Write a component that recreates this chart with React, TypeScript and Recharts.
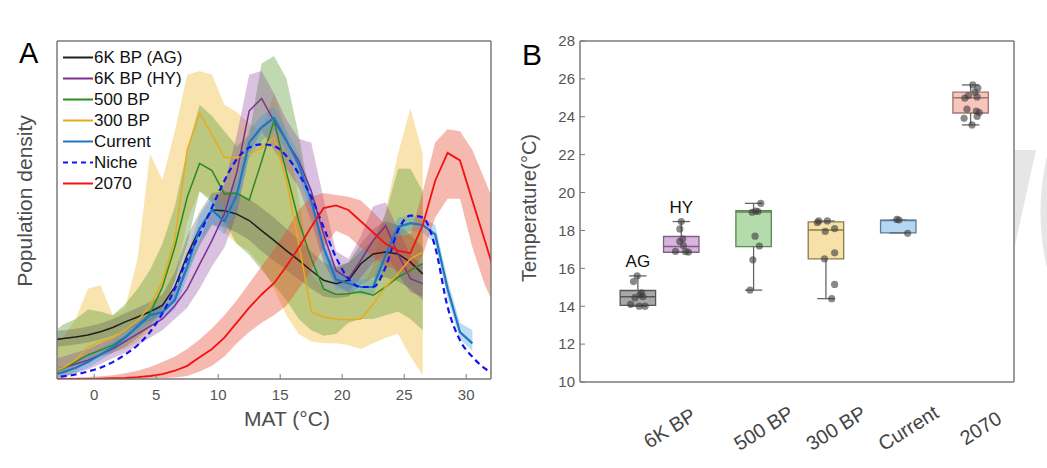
import {
  ComposedChart,
  Area,
  Line,
  Scatter,
  XAxis,
  YAxis,
  Legend,
  ReferenceArea,
  ReferenceLine,
  ReferenceDot,
} from "recharts"

const FONT = '"Liberation Sans", Arial, Helvetica, sans-serif'

// ---------- Panel A: population density along mean annual temperature ----------
const mat = [
  -3.5, -2.5, -1.5, -0.5, 0.5, 1.5, 2.5, 3.5, 4.5, 5.5, 6.5, 7.5, 8.5, 9.5, 10.5, 11.5, 12.5, 13.5,
  14.5, 15.5, 16.5, 17.5, 18.5, 19.5, 20.5, 21.5, 22.5, 23.5, 24.5, 25.5, 26.5, 27.5, 28.5, 29.5,
  30.5, 31.5, 32.5,
]
const matDomain = [-3, 32]
const matTicks = [0, 5, 10, 15, 20, 25, 30]
const densityDomain = [0, 9]
const densityTicks = [1, 2, 3, 4, 5, 6, 7, 8]

const seriesNames = ["6K BP (AG)", "6K BP (HY)", "500 BP", "300 BP", "Current", "Niche", "2070"]

// 6K BP (AG)
const agLine = [1.03, 1.08, 1.12, 1.17, 1.26, 1.37, 1.52, 1.65, 1.79, 1.96, 2.45, 3.3, 4.0, 4.5, 4.48, 4.39, 4.22, 3.95, 3.69, 3.42, 3.16, 2.89, 2.63, 2.54, 2.63, 3.07, 3.33, 3.38, 3.33, 3.11, 2.8]
const agLo = [0.85, 0.88, 0.92, 0.97, 1.05, 1.15, 1.3, 1.42, 1.55, 1.7, 2.1, 2.85, 3.55, 4.1, 4.05, 3.9, 3.7, 3.4, 3.15, 2.9, 2.65, 2.4, 2.2, 2.15, 2.2, 2.5, 2.7, 2.7, 2.6, 2.4, 2.1]
const agHi = [1.25, 1.3, 1.34, 1.4, 1.48, 1.6, 1.75, 1.9, 2.05, 2.25, 2.85, 3.8, 4.45, 4.95, 5.0, 4.95, 4.8, 4.55, 4.3, 4.0, 3.7, 3.4, 3.1, 2.95, 3.1, 3.6, 4.0, 4.2, 4.1, 3.85, 3.5]

// 6K BP (HY)
const hyLine = [0.2, 0.3, 0.4, 0.5, 0.65, 0.8, 1.0, 1.2, 1.4, 1.6, 1.95, 2.4, 3.05, 3.69, 4.4, 5.5, 7.14, 7.47, 6.87, 6.34, 5.81, 5.01, 3.86, 2.89, 2.67, 3.16, 3.69, 4.08, 3.33, 2.67, 2.54]
const hyLo = [0.0, 0.05, 0.15, 0.25, 0.4, 0.55, 0.7, 0.9, 1.1, 1.3, 1.6, 1.9, 2.4, 3.0, 3.5, 4.4, 6.0, 6.6, 6.1, 5.6, 5.1, 4.2, 3.1, 2.5, 2.3, 2.7, 3.1, 3.3, 2.8, 2.3, 2.2]
const hyHi = [0.5, 0.6, 0.7, 0.8, 0.95, 1.1, 1.3, 1.5, 1.75, 2.0, 2.4, 3.0, 3.7, 4.5, 5.2, 6.5, 8.1, 8.2, 7.6, 6.9, 6.4, 6.3, 4.8, 3.4, 3.2, 3.8, 4.6, 4.7, 4.0, 3.3, 3.0]

// 500 BP
const bp500Line = [0.2, 0.28, 0.46, 0.64, 0.77, 0.9, 1.12, 1.39, 1.74, 2.45, 3.51, 4.84, 5.74, 5.55, 4.93, 4.95, 4.76, 5.8, 6.88, 5.5, 4.2, 3.2, 2.4, 2.25, 2.27, 2.32, 2.23, 2.45, 2.71, 2.89, 3.07]
const bp500Lo = [0.1, 0.2, 0.35, 0.5, 0.6, 0.7, 0.85, 1.1, 1.4, 1.9, 2.6, 3.6, 5.0, 4.7, 4.2, 3.6, 3.3, 2.9, 2.5, 2.1, 1.6, 1.3, 1.15, 1.2, 1.5, 1.6, 1.6, 1.7, 1.8, 1.6, 1.3]
const bp500Hi = [1.2, 1.45, 1.6, 1.85, 1.8, 1.7, 2.0, 2.4, 2.9, 3.6, 4.6, 6.1, 7.3, 7.0, 6.6, 6.2, 6.5, 8.4, 8.6, 8.0, 6.5, 4.6, 3.4, 3.0, 3.1, 3.4, 3.7, 4.4, 5.6, 5.6, 5.0]

// 300 BP
const bp300Line = [0.2, 0.3, 0.5, 0.85, 1.0, 1.1, 1.3, 1.55, 1.95, 2.6, 3.7, 6.1, 7.08, 6.5, 5.9, 5.9, 6.0, 6.15, 6.43, 5.3, 3.6, 1.8, 1.65, 1.6, 1.58, 1.6, 2.0, 2.45, 2.8, 3.2, 3.38]
const bp300Lo = [0.0, 0.05, 0.2, 0.5, 0.6, 0.7, 0.8, 1.0, 1.3, 1.8, 2.6, 4.2, 5.0, 4.8, 3.9, 3.6, 3.4, 3.0, 2.4, 1.7, 1.2, 1.0, 0.95, 0.95, 0.9, 0.8, 0.95, 1.1, 1.2, 0.6, 0.1]
const bp300Hi = [0.9, 1.1, 1.6, 2.4, 2.5, 1.7, 1.9, 3.2, 6.0, 5.3, 6.6, 8.1, 8.2, 8.1, 7.3, 7.1, 6.8, 6.6, 7.6, 6.6, 4.8, 2.8, 2.4, 2.2, 2.3, 2.4, 3.0, 4.5, 6.0, 7.2, 6.0]

// Current
const curLine = [0.1, 0.18, 0.3, 0.45, 0.65, 0.85, 1.1, 1.4, 1.7, 1.78, 2.1, 3.0, 4.0, 4.5, 4.2, 4.9, 6.3, 6.7, 6.95, 6.35, 5.7, 4.75, 3.5, 2.65, 2.55, 2.45, 2.45, 3.3, 4.05, 4.15, 4.1, 3.85, 2.4, 1.25, 0.95]
const curLo = [0.0, 0.05, 0.15, 0.3, 0.5, 0.7, 0.95, 1.25, 1.5, 1.6, 1.85, 2.7, 3.6, 4.15, 3.85, 4.5, 5.9, 6.35, 6.65, 6.05, 5.4, 4.45, 3.2, 2.4, 2.35, 2.25, 2.25, 3.0, 3.8, 3.95, 3.9, 3.6, 2.15, 1.05, 0.75]
const curHi = [0.25, 0.33, 0.45, 0.62, 0.82, 1.02, 1.27, 1.57, 1.9, 2.0, 2.4, 3.3, 4.35, 4.85, 4.6, 5.3, 6.65, 7.0, 7.25, 6.65, 6.0, 5.05, 3.8, 2.9, 2.75, 2.65, 2.65, 3.6, 4.3, 4.35, 4.3, 4.1, 2.65, 1.5, 1.3]

// Niche
const nicheLine = [0.04, 0.07, 0.12, 0.2, 0.3, 0.45, 0.65, 0.9, 1.25, 1.75, 2.4, 3.2, 3.85, 4.57, 5.28, 5.85, 6.16, 6.25, 6.2, 5.94, 5.46, 4.85, 4.04, 3.24, 2.67, 2.45, 2.45, 2.98, 3.95, 4.35, 4.3, 3.51, 1.92, 1.03, 0.59, 0.28, 0.1]

// 2070
const f2070Line = [0, 0, 0, 0, 0.01, 0.02, 0.03, 0.05, 0.08, 0.13, 0.22, 0.35, 0.58, 0.8, 1.1, 1.5, 1.9, 2.25, 2.55, 3.0, 3.5, 4.05, 4.55, 4.62, 4.5, 4.2, 3.9, 3.6, 3.42, 3.35, 4.1, 5.28, 6.02, 5.82, 4.75, 3.69, 2.6]
const f2070Lo = [0, 0, 0, 0, 0, 0, 0, 0, 0.01, 0.02, 0.04, 0.08, 0.2, 0.35, 0.6, 0.95, 1.25, 1.5, 1.7, 1.95, 2.4, 2.9, 3.5, 3.95, 3.8, 3.5, 3.25, 3.0, 2.9, 2.8, 3.3, 4.3, 4.8, 4.8, 3.5, 2.5, 1.8]
const f2070Hi = [0.02, 0.03, 0.04, 0.05, 0.07, 0.1, 0.15, 0.22, 0.32, 0.45, 0.6, 0.8, 1.05, 1.35, 1.7, 2.1, 2.55, 3.0, 3.45, 3.95, 4.5, 4.85, 4.95, 4.9, 4.85, 4.75, 4.45, 4.1, 3.8, 3.85, 5.0, 6.3, 6.65, 6.6, 6.1, 5.3, 4.5]

// ---------- Panel B: temperature by period ----------
const tempGroups = ["AG", "HY", "500 BP", "300 BP", "Current", "2070"]
const tempPos = [1.4, 2, 3, 4, 5, 6]
const tempWhiskerLo = [14.0, 16.85, 14.85, 14.4, 17.87, 23.57]
const tempQ1 = [14.05, 16.85, 17.15, 16.5, 17.87, 24.2]
const tempMedian = [14.5, 17.15, 18.98, 18.02, 18.52, 25.0]
const tempQ3 = [14.83, 17.68, 19.05, 18.45, 18.55, 25.3]
const tempWhiskerHi = [15.6, 18.47, 19.43, 18.5, 18.55, 25.68]

const agTemps = [15.6, 15.3, 14.7, 14.6, 14.5, 14.45, 14.1, 14.0, 14.0]
const agJitter = [-0.01, -0.06, 0.05, 0.03, 0.07, -0.04, -0.1, 0.02, 0.1]
const hyTemps = [18.47, 18.08, 17.55, 17.42, 17.2, 16.9, 16.88, 16.86]
const hyJitter = [0, -0.02, 0.02, -0.02, 0.03, -0.08, 0.06, 0.1]
const bp500Temps = [19.43, 19.02, 19.0, 18.96, 17.7, 17.18, 16.45, 14.85]
const bp500Jitter = [0.1, 0.03, 0.06, -0.02, 0.02, 0.08, -0.01, -0.05]
const bp300Temps = [18.5, 18.5, 18.42, 18.1, 17.95, 16.82, 16.5, 15.15, 14.4]
const bp300Jitter = [-0.1, 0.02, -0.12, 0.12, -0.01, 0.12, -0.02, 0.12, 0.08]
const curTemps = [18.58, 18.55, 17.85]
const curJitter = [-0.02, 0.01, 0.13]
const f2070Temps = [25.68, 25.52, 25.3, 25.12, 25.05, 24.98, 24.4, 24.3, 24.22, 24.02, 23.92, 23.57]
const f2070Jitter = [0.03, 0.1, 0.06, -0.03, 0.09, -0.08, -0.05, 0.08, 0.12, 0.09, -0.09, 0.02]

const periodDomain = [0.6, 6.6]
const tempDomain = [10, 28]
const tempTickPos = [1.7, 3, 4, 5, 6]
const tempTickLabels = ["6K BP", "500 BP", "300 BP", "Current", "2070"]
const tempYTicks = [10, 12, 14, 16, 18, 20, 22, 24, 26, 28]

// ---------- build tables ----------
type Arr = (number | null)[]
const at = (a: Arr, i: number) => a[i] ?? null
const span = (lo: Arr, hi: Arr, i: number) =>
  lo[i] == null || hi[i] == null ? null : [lo[i] as number, hi[i] as number]

const densityRows = mat.map((t, i) => ({
  t,
  ag: at(agLine, i),
  agBand: span(agLo, agHi, i),
  hy: at(hyLine, i),
  hyBand: span(hyLo, hyHi, i),
  bp500: at(bp500Line, i),
  bp500Band: span(bp500Lo, bp500Hi, i),
  bp300: at(bp300Line, i),
  bp300Band: span(bp300Lo, bp300Hi, i),
  cur: at(curLine, i),
  curBand: span(curLo, curHi, i),
  niche: at(nicheLine, i),
  f2070: at(f2070Line, i),
  f2070Band: span(f2070Lo, f2070Hi, i),
}))

const groupTemps = [agTemps, hyTemps, bp500Temps, bp300Temps, curTemps, f2070Temps]
const groupJitter = [agJitter, hyJitter, bp500Jitter, bp300Jitter, curJitter, f2070Jitter]
const tempPoints = tempPos.flatMap((p, g) =>
  groupTemps[g].map((v, j) => ({ x: p + groupJitter[g][j], y: v })),
)

// ---------- styles ----------
const lineKeys = ["ag", "hy", "bp500", "bp300", "cur", "niche", "f2070"]
const lineColors = ["#1e1e1e", "#7e2f8e", "#2d8a1e", "#e9aa1c", "#1f77c0", "#1414f0", "#f21212"]
const lineWidths = [1.5, 1.5, 1.5, 1.5, 2.2, 2.2, 1.8]

// bands, drawn back to front
const bandKeys = ["bp300Band", "bp500Band", "hyBand", "agBand", "curBand", "f2070Band"]
const bandColors = ["#eeb730", "#5a9a30", "#8a3f9a", "#505050", "#3d9be0", "#e8472e"]
const bandOpacity = [0.38, 0.38, 0.32, 0.3, 0.35, 0.38]

const boxFill = ["#a8a8a8", "#dab4df", "#b3dbab", "#f6e1a7", "#b4d6f0", "#f7c5bc"]
const boxStroke = ["#555555", "#7d6284", "#5b8754", "#8c7a4d", "#5c7c96", "#9c776f"]
const BOX_HALF = 0.245
const CAP_HALF = 0.12
const AXIS = "#7a7a7a"

function DensityLegend() {
  return (
    <div style={{ fontFamily: FONT, fontSize: 17, color: "#111" }}>
      {seriesNames.map((name, i) => (
        <div key={name} style={{ display: "flex", alignItems: "center", height: 21 }}>
          <svg width={31} height={21}>
            <line
              x1={0}
              y1={10.5}
              x2={30}
              y2={10.5}
              stroke={lineColors[i]}
              strokeWidth={2}
              strokeDasharray={lineKeys[i] === "niche" ? "5 4" : undefined}
            />
          </svg>
          <span>{name}</span>
        </div>
      ))}
    </div>
  )
}

function PeriodTick(props: any) {
  const { x, y, payload } = props
  const idx = tempTickPos.indexOf(payload.value)
  if (idx < 0) return <g />
  const cx = x + 10
  const cy = y + 46
  return (
    <text
      x={cx}
      y={cy}
      textAnchor="middle"
      dominantBaseline="central"
      fontSize={20}
      fill="#444"
      fontFamily={FONT}
      transform={`rotate(-32 ${cx} ${cy})`}
    >
      {tempTickLabels[idx]}
    </text>
  )
}

function TempDot(props: any) {
  return <circle cx={props.cx} cy={props.cy} r={3.6} fill="#3a3a3a" fillOpacity={0.6} />
}

export default function App() {
  return (
    <div
      style={{
        position: "absolute",
        left: 0,
        top: 0,
        width: 1047,
        height: 468,
        background: "#fff",
        fontFamily: FONT,
        overflow: "hidden",
      }}
    >
      {/* faint watermark at the right edge */}
      <svg width={1047} height={468} style={{ position: "absolute", left: 0, top: 0 }}>
        <polygon points="1015,150 1036,150 1015,245" fill="#e6e6e6" />
        <path d="M1047,156 Q1034,212 1047,268 Z" fill="#e6e6e6" />
      </svg>

      <div style={{ position: "absolute", left: 0, top: 0 }}>
        <ComposedChart
          width={520}
          height={468}
          data={densityRows}
          margin={{ top: 40, right: 28, bottom: 59, left: 56 }}
        >
          <XAxis
            dataKey="t"
            type="number"
            domain={matDomain}
            ticks={matTicks}
            interval={0}
            allowDataOverflow
            height={30}
            tickSize={-5}
            tickMargin={15}
            stroke={AXIS}
            tick={{ fill: "#555", fontSize: 15, fontFamily: FONT }}
          />
          <XAxis
            xAxisId="top"
            orientation="top"
            dataKey="t"
            type="number"
            domain={matDomain}
            ticks={matTicks}
            interval={0}
            allowDataOverflow
            height={1}
            tickSize={-5}
            tick={false}
            stroke={AXIS}
          />
          <YAxis
            type="number"
            domain={densityDomain}
            ticks={densityTicks}
            interval={0}
            allowDataOverflow
            width={1}
            tickSize={-5}
            tick={false}
            stroke={AXIS}
          />
          <YAxis
            yAxisId="right"
            orientation="right"
            type="number"
            domain={densityDomain}
            ticks={densityTicks}
            interval={0}
            allowDataOverflow
            width={1}
            tickSize={-5}
            tick={false}
            stroke={AXIS}
          />
          {bandKeys.map((k, i) => (
            <Area
              key={k}
              type="linear"
              dataKey={k}
              stroke="none"
              fill={bandColors[i]}
              fillOpacity={bandOpacity[i]}
              isAnimationActive={false}
              activeDot={false}
            />
          ))}
          {lineKeys.map((k, i) => (
            <Line
              key={k}
              type={k === "niche" ? "monotone" : "linear"}
              dataKey={k}
              stroke={lineColors[i]}
              strokeWidth={lineWidths[i]}
              strokeDasharray={k === "niche" ? "6 4" : undefined}
              dot={false}
              activeDot={false}
              isAnimationActive={false}
            />
          ))}
          {/* plot frame */}
          <ReferenceArea
            xAxisId="top"
            yAxisId="right"
            x1={matDomain[0]}
            x2={matDomain[1]}
            y1={densityDomain[0]}
            y2={densityDomain[1]}
            fill="none"
            stroke={AXIS}
            strokeWidth={1}
            ifOverflow="visible"
          />
          <Legend
            content={() => <DensityLegend />}
            layout="vertical"
            align="center"
            verticalAlign="middle"
            wrapperStyle={{ left: 63, top: 47, width: "auto" }}
          />
        </ComposedChart>
      </div>

      <div style={{ position: "absolute", left: 500, top: 0 }}>
        <ComposedChart
          width={547}
          height={468}
          data={tempPoints}
          margin={{ top: 40, right: 32, bottom: 26, left: 20 }}
        >
          <XAxis
            dataKey="x"
            type="number"
            domain={periodDomain}
            ticks={tempTickPos}
            interval={0}
            allowDataOverflow
            height={60}
            tickLine={false}
            tickSize={0}
            tickMargin={0}
            stroke={AXIS}
            tick={<PeriodTick />}
          />
          <XAxis
            xAxisId="top"
            orientation="top"
            dataKey="x"
            type="number"
            domain={periodDomain}
            allowDataOverflow
            height={1}
            tickLine={false}
            tick={false}
            stroke={AXIS}
          />
          <YAxis
            type="number"
            domain={tempDomain}
            ticks={tempYTicks}
            interval={0}
            allowDataOverflow
            width={60}
            tickSize={-5}
            tickMargin={10}
            stroke={AXIS}
            tick={{ fill: "#555", fontSize: 15, fontFamily: FONT }}
          />
          <YAxis
            yAxisId="right"
            orientation="right"
            type="number"
            domain={tempDomain}
            ticks={tempYTicks}
            interval={0}
            allowDataOverflow
            width={1}
            tickSize={-5}
            tick={false}
            stroke={AXIS}
          />
          {tempPos.map((p, i) => (
            <ReferenceArea
              key={`box-${i}`}
              x1={p - BOX_HALF}
              x2={p + BOX_HALF}
              y1={tempQ1[i]}
              y2={tempQ3[i]}
              fill={boxFill[i]}
              fillOpacity={1}
              stroke={boxStroke[i]}
              strokeWidth={1.3}
              ifOverflow="visible"
            />
          ))}
          {tempPos.map((p, i) => (
            <ReferenceLine
              key={`wlo-${i}`}
              segment={[
                { x: p, y: tempWhiskerLo[i] },
                { x: p, y: tempQ1[i] },
              ]}
              stroke="#666"
              strokeWidth={1.3}
            />
          ))}
          {tempPos.map((p, i) => (
            <ReferenceLine
              key={`whi-${i}`}
              segment={[
                { x: p, y: tempQ3[i] },
                { x: p, y: tempWhiskerHi[i] },
              ]}
              stroke="#666"
              strokeWidth={1.3}
            />
          ))}
          {tempPos.map((p, i) => (
            <ReferenceLine
              key={`clo-${i}`}
              segment={[
                { x: p - CAP_HALF, y: tempWhiskerLo[i] },
                { x: p + CAP_HALF, y: tempWhiskerLo[i] },
              ]}
              stroke="#666"
              strokeWidth={1.3}
            />
          ))}
          {tempPos.map((p, i) => (
            <ReferenceLine
              key={`chi-${i}`}
              segment={[
                { x: p - CAP_HALF, y: tempWhiskerHi[i] },
                { x: p + CAP_HALF, y: tempWhiskerHi[i] },
              ]}
              stroke="#666"
              strokeWidth={1.3}
            />
          ))}
          {tempPos.map((p, i) => (
            <ReferenceLine
              key={`med-${i}`}
              segment={[
                { x: p - BOX_HALF, y: tempMedian[i] },
                { x: p + BOX_HALF, y: tempMedian[i] },
              ]}
              stroke={boxStroke[i]}
              strokeWidth={1.5}
            />
          ))}
          <Scatter data={tempPoints} dataKey="y" shape={<TempDot />} isAnimationActive={false} />
          {[0, 1].map((i) => (
            <ReferenceDot
              key={tempGroups[i]}
              x={tempPos[i]}
              y={tempWhiskerHi[i] + 0.78}
              r={0}
              fill="none"
              stroke="none"
              label={{ value: tempGroups[i], position: "center", fill: "#111", fontSize: 17, fontFamily: FONT }}
            />
          ))}
          {/* plot frame */}
          <ReferenceArea
            xAxisId="top"
            yAxisId="right"
            x1={periodDomain[0]}
            x2={periodDomain[1]}
            y1={tempDomain[0]}
            y2={tempDomain[1]}
            fill="none"
            stroke={AXIS}
            strokeWidth={1}
            ifOverflow="visible"
          />
        </ComposedChart>
      </div>

      {/* panel letters and axis titles */}
      <svg
        width={1047}
        height={468}
        style={{ position: "absolute", left: 0, top: 0, pointerEvents: "none" }}
        fontFamily={FONT}
      >
        <text x={19} y={63} fontSize={29} fill="#000">
          A
        </text>
        <text x={522} y={65} fontSize={30} fill="#000">
          B
        </text>
        <text x={32} y={201} fontSize={21} fill="#4d4d4d" textAnchor="middle" transform="rotate(-90 32 201)">
          Population density
        </text>
        <text x={287} y={426} fontSize={21} fill="#4d4d4d" textAnchor="middle">
          MAT (°C)
        </text>
        <text x={536} y={208} fontSize={20} fill="#4d4d4d" textAnchor="middle" transform="rotate(-90 536 208)">
          Temperature(°C)
        </text>
      </svg>
    </div>
  )
}
